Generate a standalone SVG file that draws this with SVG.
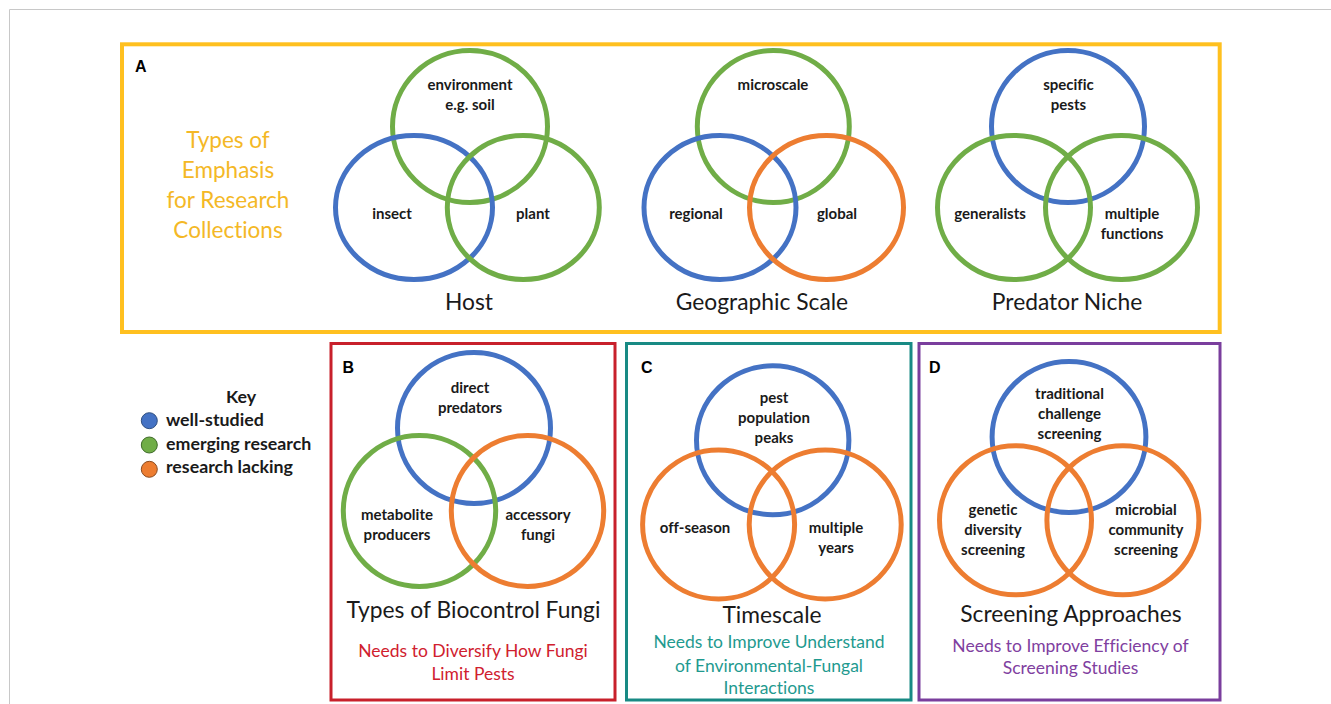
<svg xmlns="http://www.w3.org/2000/svg" width="1331" height="704" viewBox="0 0 1331 704">
<style>
text{font-variant-ligatures:none}
.bl{fill:none;stroke:#4472C4;stroke-width:5}
.gr{fill:none;stroke:#70AD47;stroke-width:5}
.or{fill:none;stroke:#ED7D31;stroke-width:5}
.lab{font-family:Lato,"Liberation Sans",sans-serif;font-weight:700;font-size:15px;fill:#1a1a1a;text-anchor:middle}
.ttl{font-family:Lato,"Liberation Sans",sans-serif;font-size:22.8px;fill:#1a1a1a;text-anchor:middle}
.sub{font-family:Lato,"Liberation Sans",sans-serif;font-size:17.5px;text-anchor:middle}
.pl{font-family:"Liberation Sans",Arial,sans-serif;font-weight:700;font-size:16px;fill:#000}
.key{font-family:Lato,"Liberation Sans",sans-serif;font-weight:700;font-size:17.8px;fill:#1a1a1a}
</style>
<rect width="1331" height="704" fill="#fff"/>
<path d="M9.5,704 V9.5 H1331" fill="none" stroke="#c8c8c8" stroke-width="1"/>

<g id="panelA">
<rect x="122" y="44.3" width="1097.7" height="287.7" fill="none" stroke="#FFC01F" stroke-width="4"/>
<text class="pl" x="135" y="72">A</text>
<g font-family="Lato,'Liberation Sans',sans-serif" font-size="22.5px" fill="#F4B826" text-anchor="middle">
<text x="228" y="148">Types of</text>
<text x="228" y="178">Emphasis</text>
<text x="228" y="208">for Research</text>
<text x="228" y="238">Collections</text>
</g>
</g>

<g id="host">
<ellipse class="gr" cx="470" cy="126.5" rx="77.5" ry="76"/>
<ellipse class="bl" cx="414" cy="207.5" rx="78.5" ry="72"/>
<ellipse class="gr" cx="523.3" cy="207.5" rx="76" ry="72"/>
<text class="lab" x="470" y="90">environment</text>
<text class="lab" x="470" y="110">e.g. soil</text>
<text class="lab" x="392" y="219">insect</text>
<text class="lab" x="533" y="219">plant</text>
<text class="ttl" x="469" y="310">Host</text>
</g>

<g id="geo">
<ellipse class="gr" cx="773.3" cy="126.5" rx="76" ry="76"/>
<ellipse class="bl" cx="720" cy="207.5" rx="76" ry="72"/>
<ellipse class="or" cx="826.5" cy="207.5" rx="77" ry="72"/>
<text class="lab" x="773" y="90">microscale</text>
<text class="lab" x="696" y="219">regional</text>
<text class="lab" x="837" y="219">global</text>
<text class="ttl" x="762" y="310">Geographic Scale</text>
</g>

<g id="predator">
<ellipse class="bl" cx="1068" cy="126.5" rx="76.5" ry="76"/>
<ellipse class="gr" cx="1014" cy="207.5" rx="76.5" ry="72"/>
<ellipse class="gr" cx="1121.5" cy="207.5" rx="76" ry="72"/>
<text class="lab" x="1068.5" y="90">specific</text>
<text class="lab" x="1068.5" y="110">pests</text>
<text class="lab" x="990" y="219">generalists</text>
<text class="lab" x="1132" y="219">multiple</text>
<text class="lab" x="1132" y="239">functions</text>
<text class="ttl" x="1067" y="310">Predator Niche</text>
</g>

<g id="key">
<text class="key" x="241" y="403" text-anchor="middle">Key</text>
<circle cx="149.3" cy="420.7" r="8" fill="#4472C4" stroke="#2F4F80" stroke-width="1"/>
<circle cx="149.3" cy="445" r="8" fill="#70AD47" stroke="#3F6B2A" stroke-width="1"/>
<circle cx="149.3" cy="469.3" r="8" fill="#ED7D31" stroke="#8A4A1E" stroke-width="1"/>
<text class="key" x="166" y="426">well-studied</text>
<text class="key" x="166" y="449.5">emerging research</text>
<text class="key" x="166" y="473">research lacking</text>
</g>

<g id="panelB">
<rect x="331" y="343.5" width="284" height="356.5" fill="none" stroke="#C8202B" stroke-width="3"/>
<text class="pl" x="342.5" y="373">B</text>
<ellipse class="bl" cx="474" cy="428" rx="76.5" ry="75.5"/>
<ellipse class="gr" cx="419.5" cy="511" rx="76.2" ry="75.5"/>
<ellipse class="or" cx="527.5" cy="511" rx="76.2" ry="75.5"/>
<text class="lab" x="470" y="393">direct</text>
<text class="lab" x="470" y="413">predators</text>
<text class="lab" x="397" y="520">metabolite</text>
<text class="lab" x="397" y="540">producers</text>
<text class="lab" x="538" y="520">accessory</text>
<text class="lab" x="538" y="540">fungi</text>
<text class="ttl" x="473.5" y="618">Types of Biocontrol Fungi</text>
<text class="sub" fill="#D0202E" x="473" y="657">Needs to Diversify How Fungi</text>
<text class="sub" fill="#D0202E" x="473" y="680">Limit Pests</text>
</g>

<g id="panelC">
<rect x="626.5" y="343.5" width="284.5" height="356.5" fill="none" stroke="#188A84" stroke-width="3"/>
<text class="pl" x="641" y="373">C</text>
<ellipse class="bl" cx="772.7" cy="440.3" rx="76.2" ry="74.5"/>
<ellipse class="or" cx="718.6" cy="524.5" rx="76" ry="74.5"/>
<ellipse class="or" cx="825.2" cy="524.5" rx="76" ry="74.5"/>
<text class="lab" x="774" y="403">pest</text>
<text class="lab" x="774" y="423">population</text>
<text class="lab" x="774" y="443">peaks</text>
<text class="lab" x="695" y="533">off-season</text>
<text class="lab" x="836" y="533">multiple</text>
<text class="lab" x="836" y="553">years</text>
<text class="ttl" x="772" y="623">Timescale</text>
<text class="sub" fill="#1F9A8F" x="769" y="648">Needs to Improve Understand</text>
<text class="sub" fill="#1F9A8F" x="769" y="671.5">of Environmental-Fungal</text>
<text class="sub" fill="#1F9A8F" x="769" y="694">Interactions</text>
</g>

<g id="panelD">
<rect x="919" y="343.5" width="301" height="356.5" fill="none" stroke="#7A3E9D" stroke-width="3"/>
<text class="pl" x="929" y="373">D</text>
<ellipse class="bl" cx="1069" cy="437" rx="76.9" ry="75.5"/>
<ellipse class="or" cx="1015.5" cy="520.3" rx="76" ry="74.5"/>
<ellipse class="or" cx="1122.9" cy="520.3" rx="76" ry="74.5"/>
<text class="lab" x="1069.5" y="399">traditional</text>
<text class="lab" x="1069.5" y="419">challenge</text>
<text class="lab" x="1069.5" y="439">screening</text>
<text class="lab" x="993" y="515">genetic</text>
<text class="lab" x="993" y="535">diversity</text>
<text class="lab" x="993" y="555">screening</text>
<text class="lab" x="1146" y="515">microbial</text>
<text class="lab" x="1146" y="535">community</text>
<text class="lab" x="1146" y="555">screening</text>
<text class="ttl" x="1071" y="621.5">Screening Approaches</text>
<text class="sub" fill="#8040A0" x="1070.5" y="651.5">Needs to Improve Efficiency of</text>
<text class="sub" fill="#8040A0" x="1070.5" y="674">Screening Studies</text>
</g>
</svg>
